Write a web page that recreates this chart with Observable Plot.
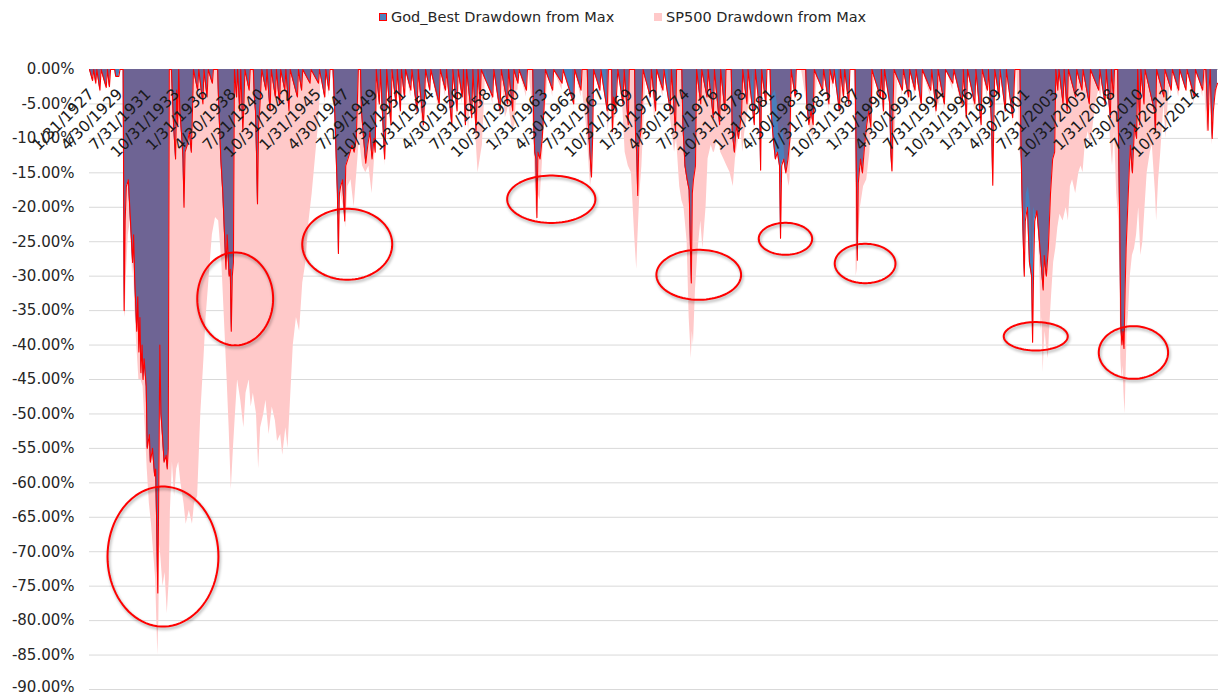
<!DOCTYPE html>
<html><head><meta charset="utf-8">
<script src="https://cdn.jsdelivr.net/npm/d3@7"></script>
<script src="https://cdn.jsdelivr.net/npm/@observablehq/plot@0.6"></script>
<style>
html,body{margin:0;padding:0;background:#fff;width:1220px;height:695px;overflow:hidden;}
#legend{position:relative;height:34px;font-family:"DejaVu Sans",Verdana,sans-serif;font-size:14.5px;color:#262626;}
#legend .it{position:absolute;top:9px;white-space:nowrap;line-height:17px;}
#legend .sw{display:inline-block;width:8px;height:8px;margin-right:4px;vertical-align:1px;box-sizing:border-box;}
.ellipse{filter:drop-shadow(1.5px 2px 1.5px rgba(0,0,0,0.35));}
</style></head>
<body>
<div id="legend">
  <span class="it" style="left:379px"><span class="sw" style="background:#4F81BD;border:1px solid #ff0000"></span>God_Best Drawdown from Max</span>
  <span class="it" style="left:654px"><span class="sw" style="background:#FFC9C9"></span>SP500 Drawdown from Max</span>
</div>
<div id="chart"></div>
<script>
// ---- data (year as decimal month index, drawdown in %) ----
const tickLabels = ["1/31/1927","4/30/1929","7/31/1931","10/31/1933","1/31/1936","4/30/1938","7/31/1940","10/31/1942","1/31/1945","4/30/1947","7/29/1949","10/31/1951","1/31/1954","4/30/1956","7/31/1958","10/31/1960","1/31/1963","4/30/1965","7/31/1967","10/31/1969","1/31/1972","4/30/1974","7/31/1976","10/31/1978","1/31/1981","4/30/1983","7/31/1985","10/31/1987","1/31/1990","4/30/1992","7/31/1994","10/31/1996","1/31/1999","4/30/2001","7/31/2003","10/31/2005","1/31/2008","4/30/2010","7/31/2012","10/31/2014"];

const yTicks = [0,-5,-10,-15,-20,-25,-30,-35,-40,-45,-50,-55,-60,-65,-70,-75,-80,-85,-90];

const godBest = [
[1927.0,0],[1927.25,-1.6],[1927.33,0],[1927.5,-2],[1927.58,0],[1927.83,-3],[1927.92,0],[1928.33,-2.6],[1928.42,0],[1928.58,-2.5],[1928.67,0],[1929.0,0],[1929.08,-1],[1929.33,-1],[1929.42,0],[1929.67,0],
[1929.75,-35],[1929.83,-22],[1929.92,-17],[1930.08,-16],[1930.25,-22],[1930.42,-28],[1930.5,-24],[1930.58,-30],[1930.75,-38],[1930.83,-33],[1930.92,-41],[1931.0,-36],[1931.08,-44],[1931.17,-40],[1931.25,-45],[1931.33,-42],[1931.5,-46],[1931.58,-55],[1931.75,-53],[1931.83,-57],[1932.0,-55],[1932.17,-59],[1932.25,-58],[1932.33,-66],[1932.42,-76],[1932.5,-60],[1932.58,-40],[1932.67,-50],[1932.75,-52],[1932.92,-57],[1933.08,-56],[1933.17,-58],[1933.25,-55],[1933.33,0],
[1933.5,0],[1933.67,-8],[1933.83,-13],[1933.92,-3],[1934.0,-8],[1934.08,0],[1934.17,-6],[1934.33,-10],[1934.42,-13],[1934.5,-20],[1934.58,-12],[1934.75,-11],[1934.92,-9],[1935.08,-12],[1935.17,-6],[1935.25,0],[1935.58,-3],[1935.67,0],[1936.0,-5],[1936.08,0],[1936.33,-4],[1936.42,0],[1936.75,-2],[1936.83,0],
[1937.17,0],[1937.25,-5],[1937.42,-13],[1937.58,-18],[1937.67,-22],[1937.83,-29],[1937.92,-24],[1938.0,-27],[1938.08,-30],[1938.17,-29],[1938.25,-38],[1938.33,-30],[1938.42,-28],[1938.5,0],
[1938.67,-4],[1938.75,0],[1938.92,-6],[1939.0,0],[1939.17,-9],[1939.25,-5],[1939.33,0],[1939.67,-3],[1939.75,0],[1940.0,0],[1940.08,-4],[1940.17,-6],[1940.25,-12],[1940.33,-19.5],[1940.42,-8],[1940.5,-6],[1940.67,0],[1941.0,-3],[1941.08,0],[1941.33,-6],[1941.42,0],[1941.75,-4],[1941.83,0],[1942.08,-5],[1942.17,0],[1942.5,-3],[1942.58,0],[1942.83,-6],[1942.92,0],[1943.5,-4],[1943.58,0],[1943.83,-3],[1943.92,0],[1944.5,-2],[1944.58,0],[1945.17,-2],[1945.25,0],[1945.67,-4],[1945.75,0],[1946.0,-3],[1946.08,0],
[1946.33,0],[1946.5,-8],[1946.58,-13],[1946.67,-18],[1946.75,-26.7],[1946.83,-18],[1946.92,-17],[1947.08,-16],[1947.17,-19],[1947.25,-22],[1947.33,-14],[1947.5,-13],[1947.67,-12],[1947.83,-11],[1948.0,-12],[1948.17,-10],[1948.33,0],[1948.5,0],[1948.58,-6],[1948.75,-10],[1948.92,-13.6],[1949.08,-11],[1949.25,-9],[1949.42,-13],[1949.58,-10],[1949.67,-12],[1949.75,0],
[1950.0,-5],[1950.08,0],[1950.42,-13],[1950.5,-9],[1950.58,0],[1950.92,-8],[1951.0,0],[1951.33,-5],[1951.42,0],[1951.67,-6],[1951.75,0],[1952.0,-4],[1952.08,0],[1952.5,-3],[1952.58,0],[1953.0,-6],[1953.08,0],[1953.5,-8],[1953.58,-4],[1953.67,0],[1954.0,-3],[1954.08,0],[1954.75,-5],[1954.83,0],[1955.25,-3],[1955.33,0],[1955.75,-8],[1955.83,0],[1956.17,-6],[1956.25,0],[1956.58,-4],[1956.67,0],[1956.83,-8],[1956.92,0],[1957.33,-7],[1957.42,0],[1957.67,-9],[1957.75,-4],[1957.83,0],[1958.0,-5],[1958.08,0],[1959.0,-4],[1959.08,0],[1959.58,-6],[1959.67,0],[1960.17,-5],[1960.25,0],[1960.58,-6],[1960.67,0],[1961.0,-2],[1961.08,0],[1961.67,-3],[1961.75,0],
[1962.17,0],[1962.25,-8],[1962.33,-12],[1962.42,-13],[1962.5,-21.5],[1962.58,-12],[1962.75,-13],[1962.92,-10],[1963.08,-5],[1963.17,0],
[1963.75,-3],[1963.83,0],[1964.5,-2],[1964.58,0],[1965.42,-5],[1965.5,0],[1966.0,-3],[1966.08,0],
[1966.5,0],[1966.58,-8],[1966.67,-11],[1966.83,-15.6],[1966.92,-10],[1967.0,0],
[1967.5,-3],[1967.58,0],[1968.08,-6],[1968.17,0],[1968.42,0],[1968.5,-9],[1968.58,-4],[1968.75,-6],[1968.92,0],
[1969.33,-5],[1969.42,0],[1969.75,-8],[1969.83,0],
[1970.25,0],[1970.33,-10],[1970.42,-12],[1970.5,-18.3],[1970.58,-11],[1970.75,-9],[1970.92,0],
[1971.5,-4],[1971.58,0],[1971.92,-6],[1972.0,0],[1972.5,-3],[1972.58,0],[1973.08,-6],[1973.17,0],[1973.5,-9],[1973.58,0],
[1974.0,0],[1974.08,-8],[1974.25,-14],[1974.42,-16],[1974.58,-17.5],[1974.75,-31],[1974.83,-18],[1974.92,-16],[1975.08,-14],[1975.17,0],
[1975.5,-5],[1975.58,0],[1976.0,-4],[1976.08,0],[1976.5,-7],[1976.58,0],[1977.0,-8],[1977.08,0],[1977.42,-6],[1977.5,0],
[1977.92,0],[1978.0,-9],[1978.17,-12],[1978.33,-8],[1978.5,-10],[1978.75,-6],[1978.83,0],
[1979.17,-5],[1979.25,0],[1979.75,-8],[1979.83,0],[1980.17,-6],[1980.25,-14.6],[1980.33,0],[1980.67,-5],[1980.75,0],
[1981.0,0],[1981.08,-6],[1981.25,-10],[1981.42,-13],[1981.58,-12],[1981.75,-14],[1981.83,-24.5],[1981.92,-14],[1982.08,-13],[1982.25,-15],[1982.42,-13],[1982.58,-10],[1982.67,0],
[1983.0,-4],[1983.08,0],[1983.83,0],[1983.92,-5],[1984.08,-8],[1984.25,-6],[1984.42,-8],[1984.5,0],
[1985.17,-3],[1985.25,0],[1985.67,-5],[1985.75,0],[1986.0,-2],[1986.08,0],[1986.5,-6],[1986.58,0],[1986.83,-4],[1986.92,0],[1987.25,-5],[1987.33,0],
[1987.75,0],[1987.83,-12],[1987.92,-27.7],[1988.0,-16.5],[1988.17,-13],[1988.33,-15],[1988.5,-11],[1988.67,-8],[1988.83,-6],[1989.0,-8.4],[1989.08,0],
[1989.75,-4],[1989.83,0],[1990.0,-6],[1990.08,0],[1990.5,-5],[1990.58,-12],[1990.67,-14.7],[1990.75,-6],[1990.83,0],
[1991.5,-3],[1991.58,0],[1992.0,-4],[1992.08,0],[1992.5,-3],[1992.58,0],[1993.0,-5],[1993.08,0],[1993.75,-3],[1993.83,0],[1994.17,-6],[1994.25,-4],[1994.33,0],[1994.83,-5],[1994.92,0],[1995.5,-2],[1995.58,0],[1996.25,-5],[1996.33,0],[1996.58,-7],[1996.67,0],[1997.25,-5],[1997.33,0],[1997.75,-8],[1997.83,0],[1998.25,-3],[1998.33,0],[1998.58,-8],[1998.67,-16.8],[1998.75,-8],[1998.83,0],[1999.17,-4],[1999.25,0],[1999.67,-6],[1999.75,0],[2000.25,-7],[2000.33,-4],[2000.42,0],
[2000.83,0],[2000.92,-12],[2001.0,-19],[2001.17,-30],[2001.25,-22],[2001.42,-20],[2001.58,-28],[2001.75,-30],[2001.83,-39.6],[2001.92,-28],[2002.0,-22],[2002.17,-20.5],[2002.33,-24],[2002.5,-28],[2002.67,-32],[2002.75,-27],[2002.92,-30],[2003.08,-26],[2003.25,-18],[2003.42,-13],[2003.58,-12],[2003.67,0],
[2003.83,-3],[2003.92,0],[2004.25,-5],[2004.33,0],[2004.58,-6],[2004.67,0],[2005.25,-4],[2005.33,0],[2005.75,-3],[2005.83,0],[2006.33,-5],[2006.42,0],[2007.08,-3],[2007.17,0],[2007.58,-5],[2007.67,0],[2008.0,-7],[2008.08,0],[2008.25,-4],[2008.33,0],
[2008.58,0],[2008.67,-13],[2008.75,-23],[2008.83,-37],[2008.92,-40],[2009.0,-38],[2009.08,-40.5],[2009.17,-32],[2009.25,-26],[2009.42,-18],[2009.58,-11],[2009.75,-15],[2009.92,-8],[2010.08,-10],[2010.17,0],
[2010.33,-8],[2010.42,0],[2010.67,-5],[2010.75,0],[2011.5,-6],[2011.58,-9],[2011.67,0],[2012.25,-4],[2012.33,0],[2012.83,-3],[2012.92,0],[2013.42,-3],[2013.5,0],[2014.0,-3],[2014.08,0],[2014.67,-4],[2014.75,0],[2015.33,-3],[2015.42,0],[2015.58,0],[2015.67,-4],[2015.75,-8.8],[2015.83,-3],[2015.92,0],[2016.0,-5],[2016.08,-10],[2016.17,-6],[2016.33,-3],[2016.5,-2]
];

const sp500 = [
[1927.0,0],[1927.25,-2],[1927.33,0],[1927.5,-2.5],[1927.58,0],[1927.83,-3.5],[1927.92,0],[1928.33,-3],[1928.42,0],[1928.58,-3],[1928.67,0],[1929.0,0],[1929.67,0],
[1929.75,-35],[1929.83,-36],[1929.92,-30],[1930.08,-24],[1930.25,-22],[1930.42,-30],[1930.5,-28],[1930.58,-34],[1930.75,-40],[1930.92,-45],[1931.08,-45],[1931.25,-46],[1931.42,-52],[1931.58,-58],[1931.75,-63],[1931.92,-66],[1932.08,-70],[1932.25,-74],[1932.42,-85],[1932.5,-80],[1932.58,-69],[1932.67,-71],[1932.83,-75],[1933.0,-73],[1933.17,-79],[1933.33,-74],[1933.42,-64],[1933.58,-57],[1933.75,-62],[1933.92,-58],[1934.08,-57],[1934.25,-60],[1934.5,-63],[1934.67,-66],[1934.92,-64],[1935.17,-66],[1935.33,-63],[1935.58,-62],[1935.83,-50],[1936.08,-42],[1936.25,-36],[1936.5,-30],[1936.75,-24],[1937.0,-21.5],[1937.25,-22],[1937.5,-28],[1937.75,-38],[1937.92,-45],[1938.08,-52],[1938.25,-61],[1938.42,-55],[1938.58,-50],[1938.75,-45],[1939.0,-48],[1939.25,-52],[1939.42,-47],[1939.67,-45],[1939.83,-49],[1940.0,-47],[1940.25,-50],[1940.42,-58],[1940.58,-52],[1940.83,-50],[1941.0,-48],[1941.25,-53],[1941.5,-49],[1941.75,-51],[1941.92,-54],[1942.17,-53],[1942.33,-56],[1942.58,-52],[1942.75,-55],[1942.92,-49],[1943.17,-40],[1943.42,-36],[1943.67,-38],[1943.92,-31],[1944.17,-28],[1944.42,-22],[1944.67,-18],[1944.92,-13],[1945.17,-8],[1945.42,0],[1945.67,-5],[1945.75,0],[1946.0,-4],[1946.08,0],
[1946.25,0],[1946.42,-5],[1946.58,-13],[1946.75,-21],[1946.92,-18],[1947.17,-20],[1947.33,-23],[1947.5,-17],[1947.75,-16],[1948.0,-20],[1948.25,-14],[1948.42,-10],[1948.67,-14],[1948.92,-15],[1949.17,-14],[1949.42,-18],[1949.58,-14],[1949.75,-9],[1949.92,-3],[1950.0,-6],[1950.08,0],
[1950.42,-14],[1950.5,-9],[1950.58,0],[1950.92,-9],[1951.0,0],[1951.33,-6],[1951.42,-2],[1951.5,0],[1951.67,-7],[1951.75,0],[1952.0,-5],[1952.08,0],[1952.5,-4],[1952.58,0],[1953.0,-7],[1953.08,-2],[1953.5,-10],[1953.58,-7],[1953.67,-6],[1953.83,0],[1954.0,-3],[1954.08,0],[1954.75,-6],[1954.83,0],[1955.25,-4],[1955.33,0],[1955.75,-9],[1955.83,0],[1956.17,-7],[1956.25,0],[1956.58,-5],[1956.67,-2],[1956.83,-9],[1956.92,-5],[1957.08,-9],[1957.25,-3],[1957.33,-8],[1957.42,-2],[1957.5,0],[1957.67,-10],[1957.83,-15],[1958.0,-13],[1958.17,-11],[1958.33,-5],[1958.42,0],
[1959.0,-5],[1959.08,0],[1959.58,-7],[1959.67,0],[1960.0,-7],[1960.17,-6],[1960.25,-5],[1960.58,-9],[1960.75,-8],[1960.92,-3],[1961.0,-3],[1961.08,0],[1961.67,-4],[1961.75,0],[1961.83,0],[1962.08,-4],[1962.25,-10],[1962.42,-20],[1962.5,-22],[1962.58,-18],[1962.75,-19],[1962.92,-14],[1963.08,-8],[1963.25,-4],[1963.42,0],[1963.75,-4],[1963.83,0],[1964.5,-3],[1964.58,0],[1965.33,0],[1965.42,-6],[1965.5,0],[1966.0,-4],[1966.08,0],[1966.17,-4],[1966.42,-8],[1966.58,-12],[1966.75,-17],[1966.83,-16],[1966.92,-11],[1967.08,-3],[1967.17,0],[1967.5,-4],[1967.58,0],[1968.0,0],[1968.08,-7],[1968.17,-9],[1968.33,-3],[1968.5,-10],[1968.67,-7],[1968.75,-7],[1968.83,-3],[1968.92,0],
[1969.25,-3],[1969.33,-6],[1969.5,-12],[1969.75,-14],[1970.0,-15],[1970.25,-24],[1970.42,-29],[1970.5,-25],[1970.67,-18],[1970.83,-14],[1971.0,-7],[1971.17,0],[1971.5,-5],[1971.58,0],[1971.83,-7],[1971.92,-6],[1972.0,0],[1972.5,-4],[1972.58,0],[1972.92,0],[1973.08,-7],[1973.17,-8],[1973.42,-12],[1973.58,-10],[1973.83,-17],[1974.0,-19],[1974.17,-20],[1974.42,-25],[1974.58,-36],[1974.75,-42],[1974.83,-38],[1974.92,-40],[1975.08,-32],[1975.25,-27],[1975.5,-22],[1975.67,-26],[1975.92,-20],[1976.08,-13],[1976.33,-11],[1976.5,-12],[1976.58,-12],[1976.83,-10],[1977.0,-11],[1977.08,-12],[1977.33,-13],[1977.58,-14],[1977.83,-15],[1978.08,-17],[1978.25,-13],[1978.5,-10],[1978.67,-8],[1978.83,-12],[1979.0,-9],[1979.25,-6],[1979.5,-3],[1979.67,0],[1979.75,-9],[1979.83,-6],[1980.0,0],[1980.17,-7],[1980.25,-15],[1980.42,-5],[1980.5,0],[1980.67,-6],[1980.75,0],
[1981.0,0],[1981.08,-4],[1981.42,-3],[1981.58,-5],[1981.75,-12],[1981.83,-10],[1982.0,-8],[1982.17,-13],[1982.33,-15],[1982.5,-17],[1982.58,-16],[1982.75,-5],[1982.83,0],[1983.0,-5],[1983.08,0],[1983.5,0],[1983.92,-5],[1984.08,-8],[1984.25,-9],[1984.42,-10],[1984.5,-8],[1984.67,-3],[1984.83,0],[1985.17,-4],[1985.25,0],[1985.67,-6],[1985.75,0],[1986.0,-3],[1986.08,0],[1986.42,0],[1986.5,-7],[1986.67,-6],[1986.75,0],[1986.83,-5],[1986.92,0],[1987.25,-6],[1987.33,0],[1987.67,0],[1987.75,-8],[1987.83,-30],[1987.92,-29],[1988.0,-25],[1988.17,-20],[1988.42,-17],[1988.67,-16],[1988.92,-12],[1989.0,-9],[1989.17,-5],[1989.33,0],
[1989.75,-5],[1989.83,-3],[1990.0,-7],[1990.08,-4],[1990.33,0],[1990.5,-6],[1990.58,-12],[1990.67,-15],[1990.75,-15],[1990.83,-13],[1990.92,-9],[1991.08,-3],[1991.17,0],[1991.5,-4],[1991.58,0],[1992.0,-5],[1992.08,0],[1992.5,-4],[1992.58,0],[1993.0,-6],[1993.08,0],[1993.75,-4],[1993.83,0],[1994.0,0],[1994.17,-7],[1994.25,-5],[1994.42,-5],[1994.67,-3],[1994.83,-6],[1994.92,-5],[1995.0,0],[1995.5,-3],[1995.58,0],[1996.25,-6],[1996.33,0],[1996.5,-5],[1996.58,-8],[1996.67,0],[1997.25,-6],[1997.33,0],[1997.75,-9],[1997.83,0],[1998.25,-4],[1998.33,0],[1998.5,0],[1998.58,-11],[1998.67,-17],[1998.75,-9],[1998.83,-2],[1998.92,0],[1999.17,-5],[1999.25,0],[1999.5,0],[1999.58,-4],[1999.67,-7],[1999.75,-2],[1999.83,0],[2000.17,-4],[2000.25,-8],[2000.33,-5],[2000.42,-5],[2000.5,-2],[2000.58,0],
[2000.67,-5],[2000.75,-6],[2000.83,-12],[2000.92,-13],[2001.0,-19],[2001.17,-30],[2001.25,-22],[2001.33,-18],[2001.5,-17],[2001.67,-20],[2001.75,-28],[2001.83,-26],[2001.92,-20],[2002.08,-21],[2002.25,-22],[2002.42,-30],[2002.5,-38],[2002.58,-36],[2002.67,-44],[2002.75,-40],[2002.83,-38],[2002.92,-40],[2003.08,-42],[2003.17,-38],[2003.33,-33],[2003.5,-28],[2003.67,-26],[2003.83,-23],[2004.0,-21],[2004.25,-22],[2004.5,-20],[2004.67,-22],[2004.83,-17],[2005.0,-16],[2005.25,-18],[2005.5,-15],[2005.67,-14],[2005.83,-15],[2006.0,-11],[2006.25,-9],[2006.42,-11],[2006.58,-9],[2006.83,-5],[2007.08,-3],[2007.25,-4],[2007.42,-1],[2007.58,-6],[2007.75,-2],[2007.92,-6],[2008.0,-10],[2008.17,-14],[2008.33,-9],[2008.5,-18],
[2008.67,-22],[2008.75,-30],[2008.83,-42],[2008.92,-45],[2009.0,-43],[2009.08,-47],[2009.17,-50],[2009.25,-44],[2009.33,-38],[2009.42,-36],[2009.58,-30],[2009.75,-27],[2009.92,-26],[2010.08,-24],[2010.25,-20],[2010.42,-27],[2010.58,-25],[2010.75,-20],[2010.92,-15],[2011.17,-12],[2011.33,-11],[2011.58,-18],[2011.67,-22],[2011.83,-16],[2012.0,-12],[2012.25,-5],[2012.42,-10],[2012.58,-5],[2012.75,-2],[2012.83,-4],[2012.92,0],[2013.42,-4],[2013.5,-3],[2013.58,0],[2014.0,-3],[2014.08,0],[2014.67,-5],[2014.75,0],[2014.83,-2],[2014.92,0],[2015.33,-4],[2015.42,0],[2015.58,-6],[2015.67,-9],[2015.75,-9],[2015.83,-4],[2015.92,-3],[2016.0,-8],[2016.08,-11],[2016.17,-7],[2016.33,-4],[2016.5,-3]
];

// annotation ellipses: [centre year, centre %, radius in years, radius in %]
const circles = [
[1932.83,-70.7,4.40,10.16],
[1938.56,-33.3,3.01,6.75],
[1947.45,-25.37,3.57,5.15],
[1963.64,-18.83,3.50,3.44],
[1975.34,-29.8,3.36,3.63],
[1982.22,-24.58,2.12,2.32],
[1988.54,-28.16,2.41,2.86],
[2002.08,-38.73,2.54,2.06],
[2009.83,-41.08,2.75,3.82]
];

// ---- build ----
const parseLabel = s => { const [m,d,y] = s.split("/").map(Number); return y + (m-1)/12; };
const ellipsePts = [];
circles.forEach((c,i) => {
  for (let k = 0; k <= 90; k++) {
    const t = 2*Math.PI*k/90;
    ellipsePts.push({id:i, x:c[0]+c[2]*Math.cos(t), y:c[1]+c[3]*Math.sin(t)});
  }
});

const FONT = "DejaVu Sans, Verdana, sans-serif";
const LABEL_DX = 0.16;   // label anchor offset along x (years ≈ 2px)
const LABEL_DY = -3.19;  // label anchor offset below the 0 axis (≈ 22px)
const svg = Plot.plot({
  width: 1220, height: 661,
  marginTop: 35, marginBottom: 6, marginLeft: 89, marginRight: 2,
  x: {domain: [1927, 2016.58], axis: null},
  y: {domain: [-90, 0], axis: null},
  style: {fontFamily: FONT, background: "white", overflow: "visible", color: "#262626"},
  marks: [
    Plot.ruleY(yTicks, {stroke: d => d === 0 ? "#bfbfbf" : "#d9d9d9", strokeWidth: 1}),
    Plot.areaY(sp500, {x: d => d[0], y: d => d[1], fill: "#FFC9C9", className: "sp-area"}),
    Plot.areaY(godBest, {x: d => d[0], y: d => d[1], fill: "#4A7EBB"}),
    Plot.areaY(godBest, {x: d => d[0], y: d => d[1], fill: "#6E6494", className: "overlap"}),
    Plot.lineY(godBest, {x: d => d[0], y: d => d[1], stroke: "#ff0000", strokeWidth: 1.1}),
    Plot.line(ellipsePts, {x: "x", y: "y", z: "id", stroke: "#ff0000", strokeWidth: 2, curve: "linear-closed", className: "ellipse"}),
    Plot.text(yTicks.filter(d => d > -90), {y: d => d, frameAnchor: "left", text: d => d.toFixed(2) + "%", textAnchor: "end", dx: -15, fontSize: 15, fill: "#262626"}),
    Plot.text([-90], {y: d => d, frameAnchor: "left", text: d => d.toFixed(2) + "%", textAnchor: "end", dx: -15, dy: -2, fontSize: 15, fill: "#262626"}),
    Plot.text(tickLabels, {x: d => parseLabel(d) + LABEL_DX, y: LABEL_DY, text: d => d, rotate: -45, textAnchor: "end", fontSize: 15.5, fill: "#1a1a1a"})
  ]
});

// clip the overlap fill to the SP500 area
const spG = svg.querySelector("g.sp-area");
const spPath = spG && spG.querySelector("path");
const ovG = svg.querySelector("g.overlap");
if (spPath && ovG) {
  const ns = "http://www.w3.org/2000/svg";
  const defs = document.createElementNS(ns, "defs");
  const cp = document.createElementNS(ns, "clipPath");
  cp.setAttribute("id", "spclip");
  const p = document.createElementNS(ns, "path");
  p.setAttribute("d", spPath.getAttribute("d"));
  if (spG.getAttribute("transform")) p.setAttribute("transform", spG.getAttribute("transform"));
  cp.appendChild(p); defs.appendChild(cp); svg.insertBefore(defs, svg.firstChild);
  ovG.setAttribute("clip-path", "url(#spclip)");
}
document.getElementById("chart").appendChild(svg);
</script>
</body></html>
